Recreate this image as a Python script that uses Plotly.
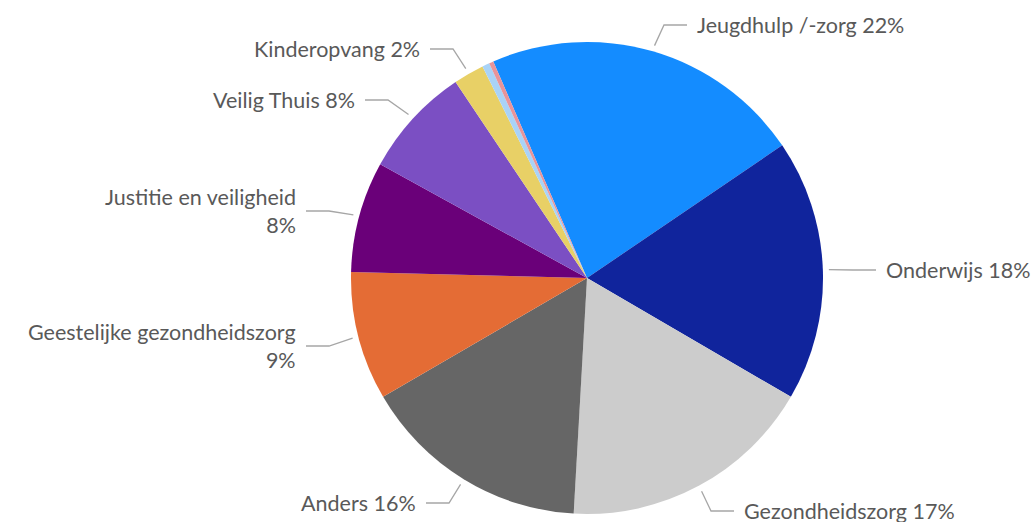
import math
import plotly.graph_objects as go

W, H = 1032, 522

labels = ["Jeugdhulp /-zorg", "Onderwijs", "Gezondheidszorg", "Anders",
          "Geestelijke gezondheidszorg", "Justitie en veiligheid", "Veilig Thuis",
          "Kinderopvang", "Overig 1", "Overig 2"]
values = [22.0, 17.9, 17.5, 15.7, 8.8, 7.6, 7.6, 2.1, 0.5, 0.3]
label_text = ["Jeugdhulp /-zorg 22%", "Onderwijs 18%", "Gezondheidszorg 17%", "Anders 16%",
              "Geestelijke gezondheidszorg<br>9%", "Justitie en veiligheid<br>8%",
              "Veilig Thuis 8%", "Kinderopvang 2%", None, None]
colors = ["#148CFF", "#10249C", "#CCCCCC", "#666666", "#E46C35",
          "#6A0079", "#7B4FC3", "#E8D066", "#A9D3F7", "#E8949A"]

# layout of the labels (pixel positions of text anchor, side)
label_pos = [(695, 25, "l"), (884, 270, "l"), (742, 511, "l"), (418, 503, "r"),
             (298, 346, "r"), (298, 211, "r"), (357, 100, "r"), (422, 49, "r"),
             None, None]

cx, cy, R = 587, 278, 236
start = -23.4


def px(x):
    return x / W


def py(y):
    return 1 - y / H


fig = go.Figure(go.Pie(
    labels=labels, values=values, sort=False, direction="clockwise",
    rotation=start, marker=dict(colors=colors, line=dict(width=0)),
    textinfo="none", hoverinfo="label+percent",
    domain=dict(x=[px(cx - R), px(cx + R)], y=[py(cy + R), py(cy - R)]),
))

total = sum(values)
cum = 0
shapes, annotations = [], []
for v, txt, pos in zip(values, label_text, label_pos):
    mid = start + (cum + v / 2) / total * 360
    cum += v
    if txt is None:
        continue
    a = math.radians(mid)
    x0 = cx + (R + 6) * math.sin(a)
    y0 = cy - (R + 6) * math.cos(a)
    tx, ty, side = pos
    s = 1 if side == "l" else -1
    x2 = tx - s * 8
    x1 = x2 - s * 23
    path = f"M {px(x0)},{py(y0)} L {px(x1)},{py(ty)} L {px(x2)},{py(ty)}"
    shapes.append(dict(type="path", xref="paper", yref="paper", path=path,
                       line=dict(color="#A6A6A6", width=1.3)))
    annotations.append(dict(x=px(tx), y=py(ty), xref="paper", yref="paper",
                            text=txt, showarrow=False,
                            xanchor="left" if side == "l" else "right",
                            yanchor="middle", align="right",
                            font=dict(size=21.5, color="#595959", family="Lato")))

fig.update_layout(
    width=W, height=H, margin=dict(l=0, r=0, t=0, b=0),
    paper_bgcolor="white", plot_bgcolor="white", showlegend=False,
    shapes=shapes, annotations=annotations,
)

# page has a default 8px body margin; remove it so the figure sits at 0,0
fig.write_html("out.html", config={"displayModeBar": False},
               post_script="document.body.style.margin='0';")
